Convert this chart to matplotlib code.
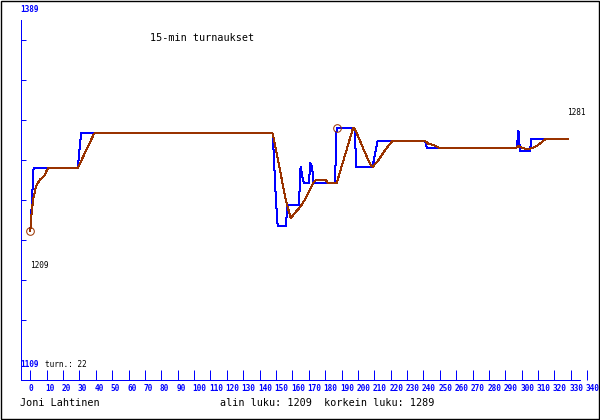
import numpy as np
import matplotlib
matplotlib.use("Agg")
import matplotlib.pyplot as plt
import matplotlib.transforms as mtransforms
from matplotlib.patches import Rectangle

# 15 min turnover readings (index, value) at the points where the line changes
blue_idx = [0, 1, 2, 29, 30, 31, 148, 149, 150, 151, 156, 157, 164, 165, 166, 167,
            170, 171, 172, 173, 186, 187, 198, 199, 209, 210, 211, 212, 241, 242,
            297, 298, 299, 305, 306, 328]
blue_val = [1209, 1232, 1258, 1258, 1272, 1285, 1285, 1258, 1232, 1213, 1213, 1229,
            1229, 1259, 1252, 1246, 1246, 1262, 1259, 1246, 1246, 1289, 1289, 1259,
            1259, 1266, 1273, 1279, 1279, 1274, 1274, 1287, 1271, 1271, 1281, 1281]

# smoothed line
avg_idx = [0, 1, 2, 3, 4, 6, 8, 9, 10, 11, 29, 39, 148, 150, 152, 154, 156, 157, 159,
           165, 168, 171, 173, 175, 180, 182, 187, 197, 198, 201, 205, 208, 209, 212,
           216, 219, 221, 241, 243, 246, 249, 297, 298, 300, 302, 305, 307, 309, 311,
           313, 315, 328]
avg_val = [1209, 1226, 1235, 1241, 1245, 1249, 1251, 1253, 1256, 1258, 1258, 1285,
           1285, 1272, 1259, 1246, 1233, 1228, 1219, 1228, 1234, 1242, 1247, 1249,
           1249, 1246, 1246, 1289, 1289, 1280, 1268, 1260, 1259, 1263, 1271, 1276,
           1279, 1279, 1277, 1276, 1274, 1274, 1275, 1274, 1273, 1273, 1274, 1275,
           1277, 1279, 1281, 1281]

min_pt = (0, 1209)
max_pt = (187, 1289)
last_val = 1281
xticks = list(range(0, 341, 10))

BLUE = "#0000ff"
BROWN = "#993300"
MONO = "DejaVu Sans Mono"
W, H = 600, 420
LW = 0.72  # one pixel


def px(x, y):
    return x / W, 1 - y / H


fig = plt.figure(figsize=(6, 4.2), dpi=100)
ax = fig.add_axes([21 / W, 40 / H, 569 / W, 360 / H])
ax.set_xlim(-5.68, 341.7)
ax.set_ylim(1092.4, 1373.6)

ax.plot(blue_idx, blue_val, color=BLUE, lw=LW, antialiased=False)
ax.plot(avg_idx, avg_val, color=BROWN, lw=LW, antialiased=False)
ax.plot(*min_pt, marker="o", ms=5.5, mfc="none", mec=BROWN, mew=LW)
ax.plot(*max_pt, marker="o", ms=5.5, mfc="none", mec=BROWN, mew=LW)

for s in ["top", "right"]:
    ax.spines[s].set_visible(False)
for s in ["left", "bottom"]:
    ax.spines[s].set_color(BLUE)
    ax.spines[s].set_linewidth(LW)
ax.spines["bottom"].set_bounds(-5.68, 335.6)

y0, y1 = ax.get_ylim()
ytick_px = np.arange(40, 321, 40)
ax.set_yticks(y0 + (380 - ytick_px) / 360 * (y1 - y0))
ax.set_yticklabels([])
ax.tick_params(axis="y", direction="in", length=3.6, width=LW, color=BLUE)

ax.set_xticks(xticks)
ax.set_xticklabels([str(t) for t in xticks], ha="left", color=BLUE,
                   fontsize=5.6, fontweight="bold", family=MONO)
ax.tick_params(axis="x", direction="in", length=7.2, width=LW, color=BLUE, pad=3)
shift = mtransforms.ScaledTranslation(-1.5 / 100, 0, fig.dpi_scale_trans)
for lbl in ax.get_xticklabels():
    lbl.set_transform(lbl.get_transform() + shift)

small = dict(fontsize=5.6, family=MONO, va="baseline")
big = dict(fontsize=7.3, family=MONO, va="baseline")
fig.text(*px(20.5, 11.7), "1389", color=BLUE, fontweight="bold", **small)
fig.text(*px(20.5, 366.7), "1109", color=BLUE, fontweight="bold", **small)
fig.text(*px(45, 366.7), "turn.: 22", color="black", **small)
fig.text(*px(30.5, 267.7), str(min_pt[1]), color="black", **small)
fig.text(*px(567, 115), str(last_val), color="black", **small)
fig.text(*px(150, 41), "15-min turnaukset", color="black", **big)
fig.text(*px(20, 406), "Joni Lahtinen", color="black", **big)
fig.text(*px(220, 406), "alin luku: %d  korkein luku: %d" % (min_pt[1], max_pt[1]),
         color="black", **big)

fig.patches.append(Rectangle(px(0.5, 418.5), 598 / W, 418 / H, transform=fig.transFigure,
                             fill=False, edgecolor="black", lw=1.0))

fig.savefig("out.png", dpi=100)
